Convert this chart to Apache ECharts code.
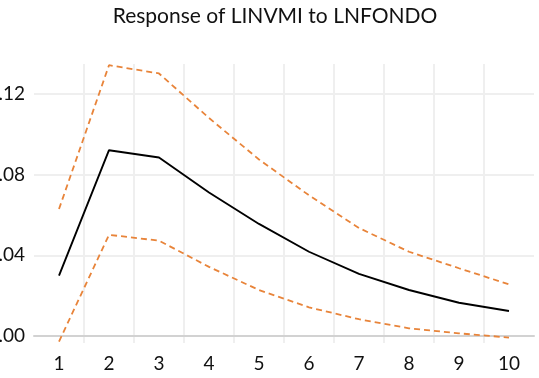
<!DOCTYPE html>
<html>
<head>
<meta charset="utf-8">
<script src="https://cdn.jsdelivr.net/npm/echarts@6/dist/echarts.min.js"></script>
<style>html,body{margin:0;padding:0;background:#fff}#c{width:539px;height:378px}</style>
</head>
<body>
<div id="c"></div>
<script>
const periods = ['1','2','3','4','5','6','7','8','9','10'];
const response = [0.0299, 0.0922, 0.0886, 0.0712, 0.0556, 0.0418, 0.0308, 0.0228, 0.0165, 0.0124];
const upperBand = [0.0630, 0.1344, 0.1303, 0.1082, 0.0876, 0.0698, 0.0536, 0.0418, 0.0336, 0.0256];
const lowerBand = [-0.0028, 0.0502, 0.0473, 0.0343, 0.0228, 0.0142, 0.0083, 0.0038, 0.0013, -0.0008];
const yTicks = [0, 0.04, 0.08, 0.12];

const chart = echarts.init(document.getElementById('c'), null, {renderer: 'canvas'});
const font = 'Lato';
const orange = '#E8843A';
chart.setOption({
  animation: false,
  title: {
    text: 'Response of LINVMI to LNFONDO',
    left: 270, top: 1, textAlign: 'center',
    textStyle: {fontFamily: font, fontSize: 21, fontWeight: 'normal', color: '#111'}
  },
  grid: {left: 34, right: 5, top: 64, bottom: 35, containLabel: false, outerBoundsMode: 'none'},
  xAxis: {
    type: 'category',
    data: periods,
    boundaryGap: true,
    axisLine: {show: true, onZero: true, lineStyle: {color: '#d2d2d2', width: 2}},
    axisTick: {show: false},
    axisLabel: {fontFamily: font, fontSize: 19, color: '#111', margin: 11},
    splitLine: {show: true, showMinLine: false, showMaxLine: false, lineStyle: {color: '#efefef', width: 2}}
  },
  yAxis: {
    type: 'value',
    min: -0.0035, max: 0.135,
    axisLine: {show: false},
    axisTick: {show: false, customValues: yTicks},
    axisLabel: {
      customValues: yTicks,
      fontFamily: font, fontSize: 19, color: '#111', margin: 9,
      formatter: v => (v < 0 ? '-' : '') + '.' + Math.round(Math.abs(v) * 100).toString().padStart(2, '0')
    },
    splitLine: {show: true, lineStyle: {color: '#efefef', width: 2}}
  },
  series: [
    {type: 'line', data: upperBand, symbol: 'none', z: 3,
     lineStyle: {color: orange, width: 1.8, type: [6, 4]}},
    {type: 'line', data: lowerBand, symbol: 'none', z: 3,
     lineStyle: {color: orange, width: 1.8, type: [6, 4]}},
    {type: 'line', data: response, symbol: 'none', z: 4,
     lineStyle: {color: '#000', width: 1.9}}
  ]
});
</script>
</body>
</html>
